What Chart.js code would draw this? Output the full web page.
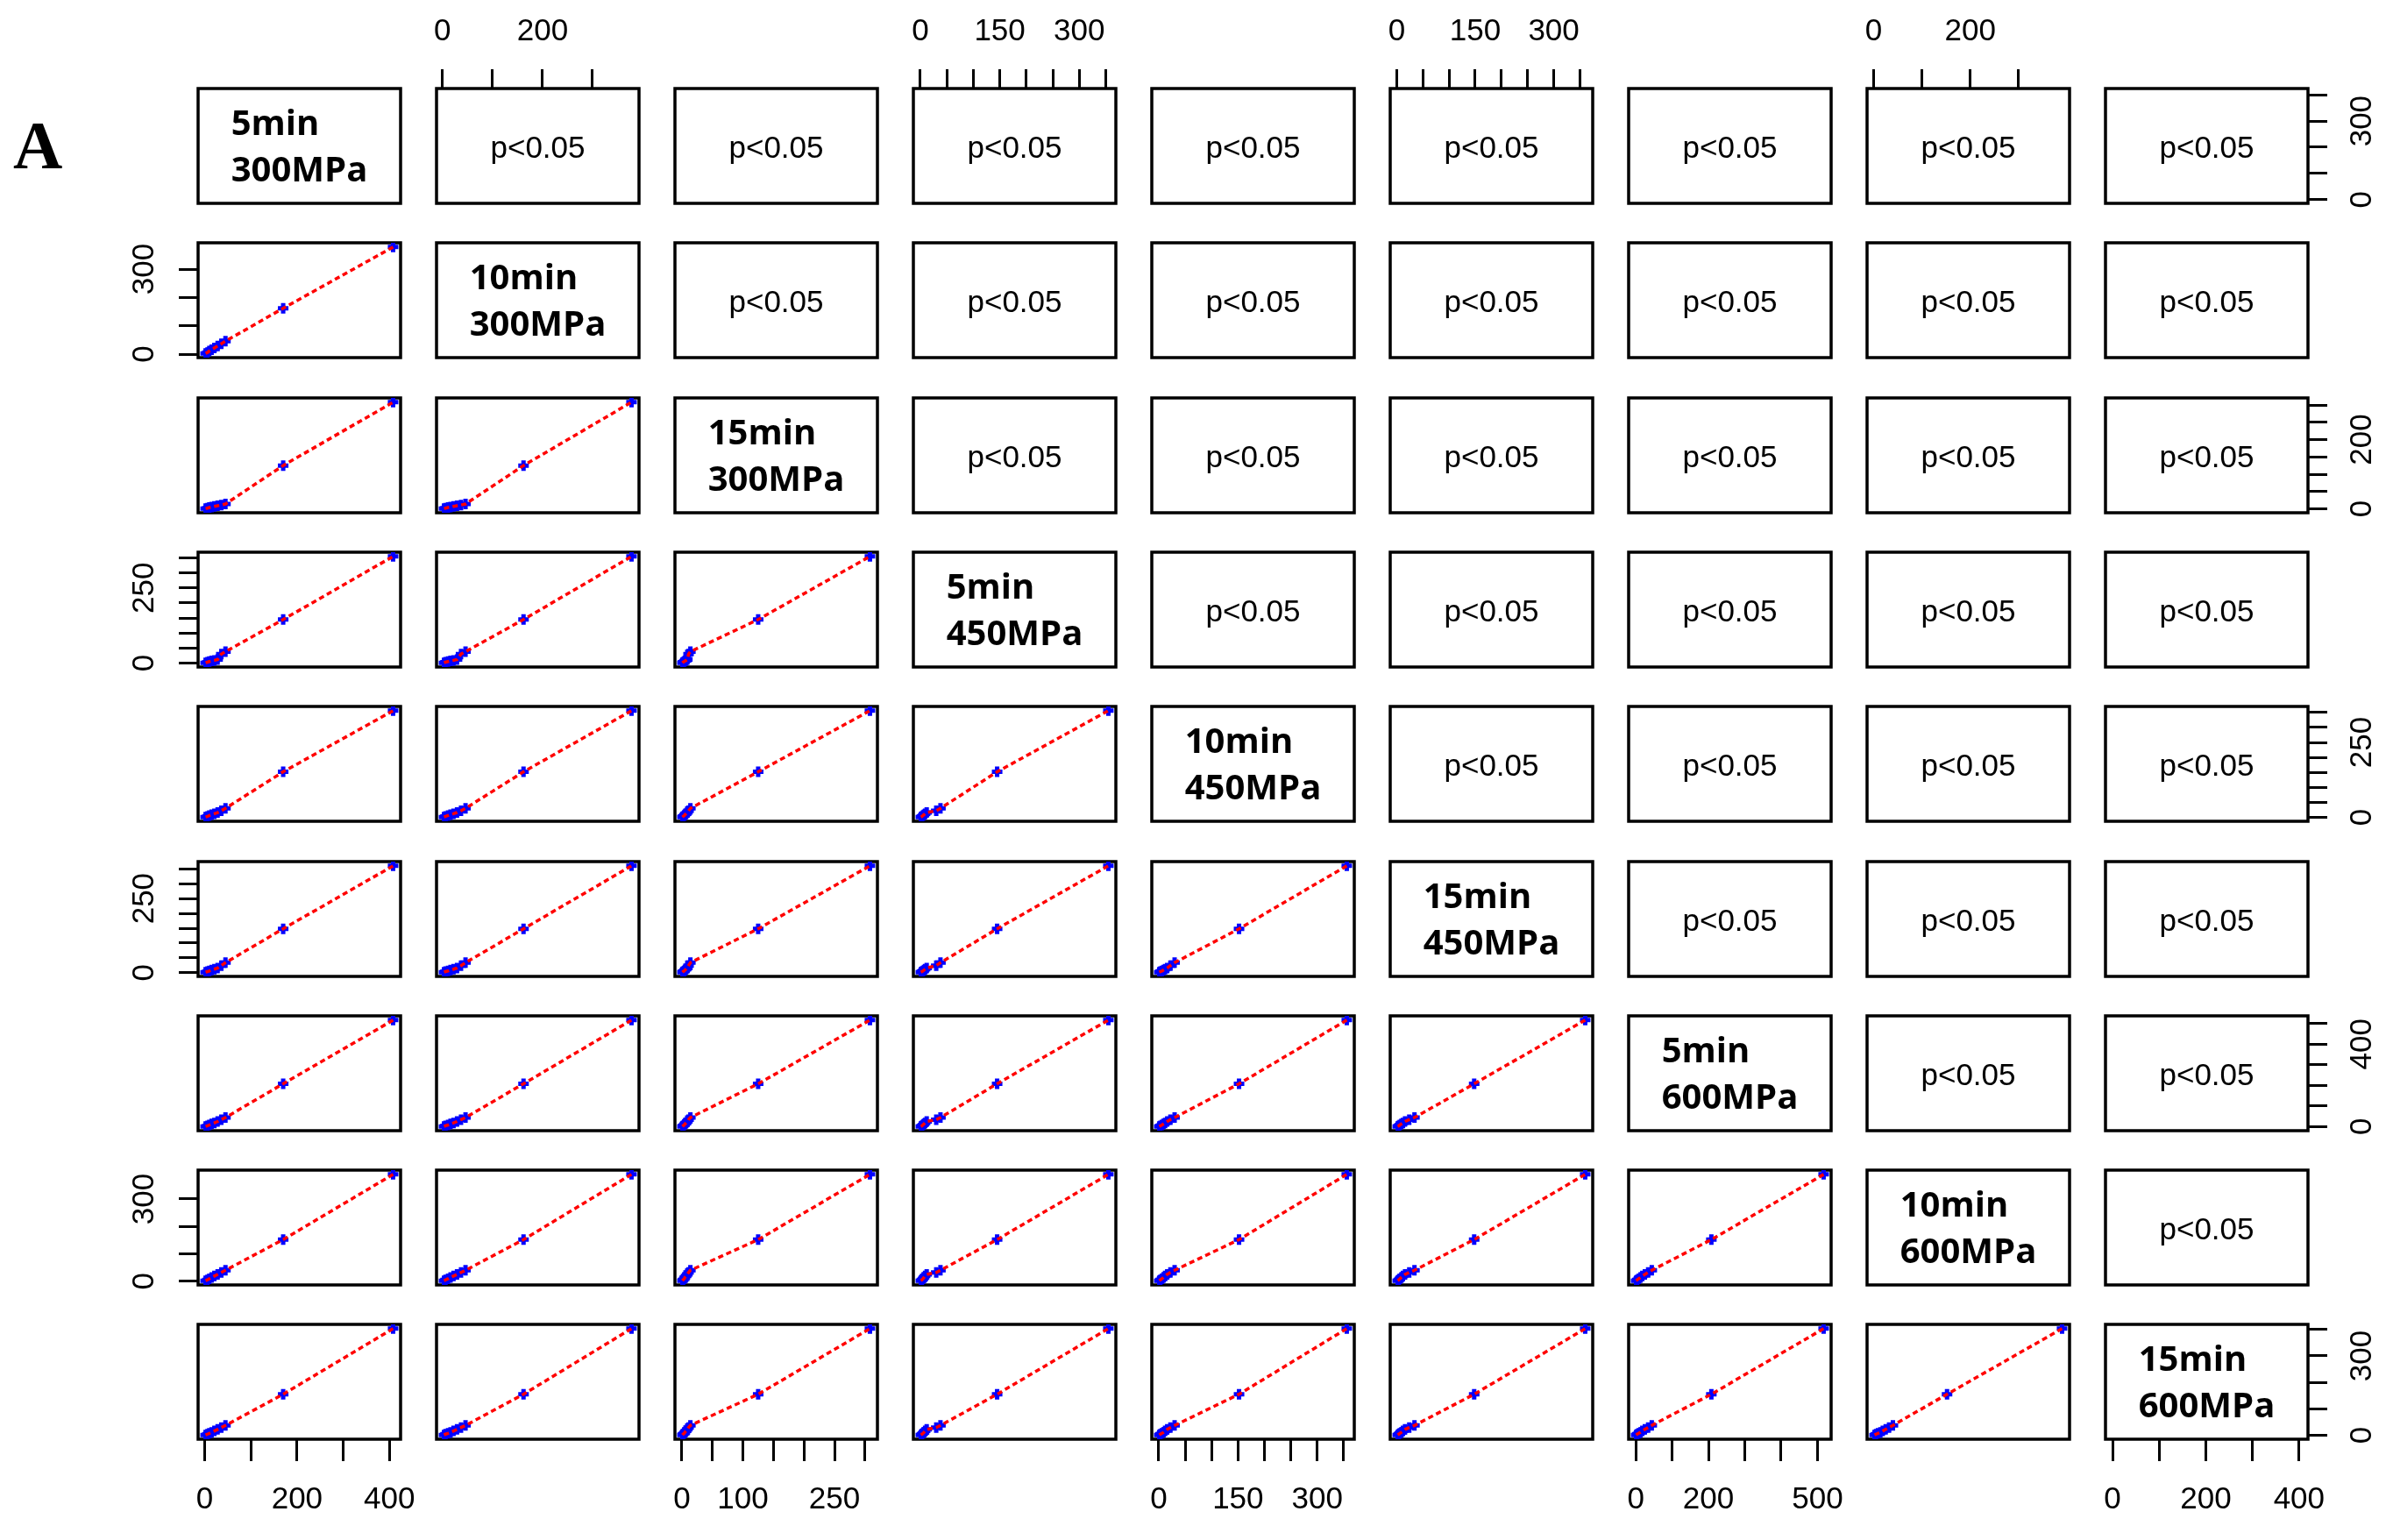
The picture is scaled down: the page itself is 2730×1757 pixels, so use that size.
<!DOCTYPE html>
<html>
<head>
<meta charset="utf-8">
<script src="https://cdn.jsdelivr.net/npm/chart.js@4.4.1/dist/chart.umd.min.js"></script>
<style>
  html, body { margin: 0; padding: 0; background: #ffffff; }
  #wrap { position: relative; width: 2730px; height: 1757px; overflow: hidden; background: #ffffff; }
  #wrap canvas { position: absolute; }
  #panelTag { position: absolute; left: 15px; top: 127px; font: bold 78px "Liberation Serif", "DejaVu Serif", serif; line-height: 78px; color: #000; }
</style>
</head>
<body>
<div id="wrap"><div id="panelTag">A</div></div>
<script>
// ---------------- DATA ----------------
const varLabels = [
  ["5min", "300MPa"], ["10min", "300MPa"], ["15min", "300MPa"],
  ["5min", "450MPa"], ["10min", "450MPa"], ["15min", "450MPa"],
  ["5min", "600MPa"], ["10min", "600MPa"], ["15min", "600MPa"]
];
// estimated sample values for each condition (same sample order in every array)
const v5min300  = [2, 6, 10, 15, 21, 28, 36, 45, 170, 408];
const v10min300 = [3, 6, 11, 16, 22, 29, 37, 46, 162, 378];
const v15min300 = [1, 2, 4, 5, 7, 9, 11, 14, 125, 308];
const v5min450  = [1, 3, 5, 7, 9, 12, 30, 38, 145, 355];
const v10min450 = [1, 3, 6, 9, 12, 16, 22, 30, 152, 356];
const v15min450 = [2, 4, 6, 9, 12, 16, 24, 34, 148, 360];
const v5min600  = [1, 4, 8, 13, 18, 25, 34, 44, 208, 517];
const v10min600 = [2, 5, 9, 14, 19, 25, 32, 40, 152, 390];
const v15min600 = [1, 4, 7, 11, 16, 22, 29, 37, 155, 403];
const seriesValues = [v5min300, v10min300, v15min300, v5min450, v10min450, v15min450, v5min600, v10min600, v15min600];

// tick marks per variable
const tickValues = [
  [0, 100, 200, 300, 400],
  [0, 100, 200, 300],
  [0, 50, 100, 150, 200, 250, 300],
  [0, 50, 100, 150, 200, 250, 300, 350],
  [0, 50, 100, 150, 200, 250, 300, 350],
  [0, 50, 100, 150, 200, 250, 300, 350],
  [0, 100, 200, 300, 400, 500],
  [0, 100, 200, 300],
  [0, 100, 200, 300, 400]
];
// labelled ticks on each outer axis (key = column / row index)
const bottomLabels = { 0: [0, 200, 400], 2: [0, 100, 250], 4: [0, 150, 300], 6: [0, 200, 500], 8: [0, 200, 400] };
const topLabels    = { 1: [0, 200], 3: [0, 150, 300], 5: [0, 150, 300], 7: [0, 200] };
const leftLabels   = { 1: [0, 300], 3: [0, 250], 5: [0, 250], 7: [0, 300] };
const rightLabels  = { 0: [0, 300], 2: [0, 200], 4: [0, 250], 6: [0, 400], 8: [0, 300] };
const upperText = "p<0.05";

// ---------------- LAYOUT ----------------
const N = varLabels.length;
const PW = 231, PH = 131, M = 120;
const colLeft = c => 226 + c * 272;
const rowTop = r => Math.round(101 + r * 176.3);
const tickFont = { family: "'Liberation Sans', Arial, sans-serif", size: 35 };

function rangeOf(v) {
  const mn = Math.min(...v), mx = Math.max(...v);
  const pad = 0.04 * (mx - mn);
  return [mn - pad, mx + pad];
}

const framePlugin = {
  id: 'frame',
  beforeDatasetsDraw(chart) {
    const { ctx, chartArea: a } = chart;
    ctx.save();
    ctx.strokeStyle = '#000';
    ctx.lineWidth = 3.5;
    ctx.strokeRect(a.left, a.top, a.right - a.left, a.bottom - a.top);
    ctx.restore();
  }
};

const panelTextPlugin = {
  id: 'panelText',
  afterDraw(chart, args, opts) {
    if (!opts || !opts.lines) return;
    const { ctx, chartArea: a } = chart;
    const cx = (a.left + a.right) / 2, cy = (a.top + a.bottom) / 2;
    ctx.save();
    ctx.fillStyle = '#000';
    ctx.textBaseline = 'alphabetic';
    if (opts.bold) {
      ctx.font = "bold 40px 'Open Sans', 'DejaVu Sans', sans-serif";
      const w = Math.max(...opts.lines.map(l => ctx.measureText(l).width));
      const x0 = cx - w / 2;
      ctx.textAlign = 'left';
      ctx.fillText(opts.lines[0], x0, cy - 26.5 + 14);
      ctx.fillText(opts.lines[1], x0, cy + 26.5 + 14);
    } else {
      ctx.font = "35px 'Liberation Sans', Arial, sans-serif";
      ctx.textAlign = 'center';
      ctx.fillText(opts.lines[0], cx, cy + 13);
    }
    ctx.restore();
  }
};

function axisOpts(varIdx, labelled, isX, position) {
  const [mn, mx] = rangeOf(seriesValues[varIdx]);
  const shown = !!labelled;
  const o = {
    type: 'linear',
    position: position,
    display: shown,
    min: mn,
    max: mx,
    afterBuildTicks: s => { s.ticks = tickValues[varIdx].map(v => ({ value: v })); },
    afterFit: s => {
      if (!shown) { if (s.isHorizontal()) s.height = 0; else s.width = 0; return; }
      if (s.isHorizontal()) s.height = M; else s.width = M;
    },
    border: { display: false },
    grid: {
      display: true, drawOnChartArea: false, drawTicks: true,
      tickLength: (position === 'bottom') ? 25 : 22,
      tickWidth: 3, tickColor: '#000'
    },
    ticks: {
      autoSkip: false,
      color: '#000',
      font: tickFont,
      callback: v => (labelled && labelled.includes(v)) ? String(v) : ''
    }
  };
  if (isX) {
    o.ticks.minRotation = 0; o.ticks.maxRotation = 0;
    o.ticks.padding = position === 'top' ? 22 : 23;
  } else {
    o.ticks.minRotation = 90; o.ticks.maxRotation = 90;
    o.ticks.crossAlign = 'center';
    o.ticks.padding = position === 'left' ? 9 : 11;
  }
  return o;
}

const wrap = document.getElementById('wrap');
for (let r = 0; r < N; r++) {
  for (let c = 0; c < N; c++) {
    const hasTop = (r === 0 && c % 2 === 1);
    const hasBottom = (r === N - 1 && c % 2 === 0);
    const hasLeft = (c === 0 && r % 2 === 1);
    const hasRight = (c === N - 1 && r % 2 === 0);

    const cv = document.createElement('canvas');
    cv.width = PW + 2 * M; cv.height = PH + 2 * M;
    cv.style.left = (colLeft(c) - M) + 'px';
    cv.style.top = (rowTop(r) - M) + 'px';
    cv.style.width = cv.width + 'px'; cv.style.height = cv.height + 'px';
    wrap.appendChild(cv);

    const datasets = [];
    if (r > c) {
      const pts = seriesValues[c].map((xv, i) => ({ x: xv, y: seriesValues[r][i] }));
      const sorted = pts.slice().sort((a, b) => a.x - b.x);
      datasets.push({
        data: sorted, showLine: true, borderColor: '#ff0000', borderWidth: 3.5,
        borderDash: [6, 4], pointRadius: 0, fill: false, tension: 0, order: 0
      });
      datasets.push({
        data: pts, pointStyle: 'cross', pointRadius: 6, borderWidth: 5,
        borderColor: '#0000ff', backgroundColor: '#0000ff', showLine: false, order: 1
      });
    }

    let textOpts = null;
    if (r === c) textOpts = { lines: varLabels[r], bold: true };
    else if (r < c) textOpts = { lines: [upperText], bold: false };

    new Chart(cv, {
      type: 'scatter',
      data: { datasets },
      options: {
        responsive: false, animation: false, devicePixelRatio: 1, events: [],
        layout: { padding: { left: hasLeft ? 0 : M, right: hasRight ? 0 : M, top: hasTop ? 0 : M, bottom: hasBottom ? 0 : M } },
        plugins: { legend: { display: false }, tooltip: { enabled: false }, panelText: textOpts || {} },
        scales: {
          x: axisOpts(c, hasTop ? topLabels[c] : (hasBottom ? bottomLabels[c] : null), true, hasTop ? 'top' : 'bottom'),
          y: axisOpts(r, hasLeft ? leftLabels[r] : (hasRight ? rightLabels[r] : null), false, hasRight ? 'right' : 'left')
        }
      },
      plugins: [framePlugin, panelTextPlugin]
    });
  }
}
</script>
</body>
</html>
